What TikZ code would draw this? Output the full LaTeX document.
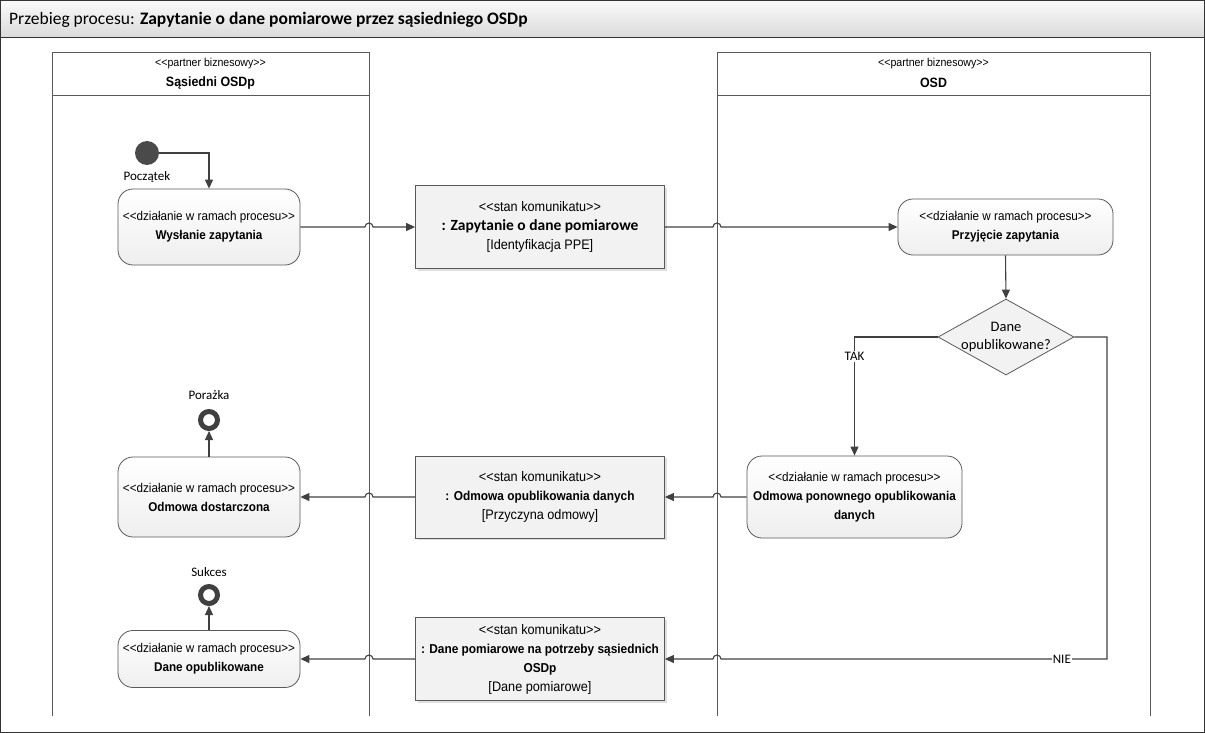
\documentclass[tikz,border=0pt]{standalone}
\usepackage{fontspec}
\setmainfont{Carlito}
\newfontfamily\nar[FakeStretch=0.92,Ligatures=TeXOff]{Liberation Sans}
\usetikzlibrary{arrows.meta,shapes.geometric,shadows,calc}
\definecolor{ln}{HTML}{404040}
\definecolor{bx}{HTML}{595959}
\newcommand\myfs[2]{\fontsize{#1}{#2}\selectfont}
\tikzset{
  conn/.style={draw=ln, line width=1.1pt, -{Triangle[width=8pt,length=9pt]}},
  plain/.style={draw=ln, line width=1.1pt},
  lane/.style={draw=bx, line width=0.8pt},
  action/.style={draw=bx, line width=0.8pt, rounded corners=15pt, top color=white,
    bottom color=gray!13, minimum width=182pt, align=center, inner sep=2pt,
    font=\nar\myfs{12.7}{19}},
  msg/.style={draw=bx, line width=0.8pt, fill=gray!10, minimum width=249pt,
    align=center, inner sep=2pt, font=\nar\myfs{13.8}{19},
    drop shadow={shadow xshift=2pt, shadow yshift=-2pt, opacity=0.25}},
  endn/.style={circle, draw=ln, line width=5pt, fill=white, minimum size=17pt, inner sep=0pt},
  lbl/.style={font=\myfs{13}{15}, inner sep=1pt},
  hdr/.style={font=\nar\myfs{11.5}{14}, inner sep=0pt}
}
\begin{document}
\begin{tikzpicture}[x=1pt,y=-1pt]
\useasboundingbox (0,0) rectangle (1205,733);
% frame and title bar
\shade[top color=gray!4, bottom color=gray!28] (0,0) rectangle (1205,37);
\draw[draw=black!80, line width=0.8pt] (0,37) -- (1205,37);
\draw[draw=black!80, line width=1pt] (0.5,0.5) rectangle (1204.5,732.5);
\node[anchor=base west, inner sep=0pt, font=\myfs{17.5}{20}] (title) at (9,25)
  {Przebieg procesu: \textbf{Zapytanie o dane pomiarowe przez sąsiedniego OSDp}};
% lanes
\coordinate (L1) at (369,0);
\coordinate (L2) at (717,0);
\draw[lane] (52,716) -- (52,52) -- (369,52) -- (369,716);
\draw[lane] (52,95) -- (369,95);
\draw[lane] (717,716) -- (717,52) -- (1150,52) -- (1150,716);
\draw[lane] (717,95) -- (1150,95);
\node[hdr] (h1a) at (210.5,64) {<<partner biznesowy>>};
\node[hdr, font=\nar\bfseries\myfs{13.5}{16}] (h1b) at (210.5,83) {Sąsiedni OSDp};
\node[hdr] (h2a) at (933.5,64) {<<partner biznesowy>>};
\node[hdr, font=\nar\bfseries\myfs{13.5}{16}] (h2b) at (933.5,83) {OSD};
% nodes
\node[circle, fill=ln!95, minimum size=24pt, inner sep=0pt] (start) at (147,153) {};
\node[lbl] (startl) at (147,177) {Początek};
\node[action, minimum height=76pt] (a1) at (209,227)
  {<<działanie w ramach procesu>>\\\bfseries Wysłanie zapytania};
\node[msg, minimum height=83pt] (m1) at (540,227)
  {<<stan komunikatu>>\\{\rmfamily\bfseries\myfs{15.5}{19}: Zapytanie o dane pomiarowe}\\{[Identyfikacja PPE]}};
\node[action, minimum width=215pt, minimum height=56pt] (p1) at (1005.5,227)
  {<<działanie w ramach procesu>>\\\bfseries Przyjęcie zapytania};
\node[diamond, draw=bx, line width=0.8pt, fill=gray!10, minimum width=136pt,
  minimum height=76pt, inner sep=0pt] (dec) at (1006,337) {};
\node[font=\myfs{14.5}{18}, align=center, inner sep=0pt] (decl) at (1006,337)
  {Dane\\opublikowane?};
\node[action, minimum width=215pt, minimum height=82pt] (o1) at (854.5,497)
  {<<działanie w ramach procesu>>\\\bfseries Odmowa ponownego opublikowania\\\bfseries danych};
\node[msg, minimum height=82pt] (m2) at (540,497)
  {<<stan komunikatu>>\\{\bfseries\myfs{12.9}{19}: Odmowa opublikowania danych}\\{[Przyczyna odmowy]}};
\node[action, minimum height=80pt] (a2) at (209,497)
  {<<działanie w ramach procesu>>\\\bfseries Odmowa dostarczona};
\node[endn] (fail) at (209,420) {};
\node[lbl] (faill) at (209,395) {Porażka};
\node[msg, minimum height=83pt] (m3) at (540,659)
  {<<stan komunikatu>>\\{\bfseries\myfs{12.9}{19}: Dane pomiarowe na potrzeby sąsiednich}\\{\bfseries\myfs{12.9}{19}OSDp}\\{[Dane pomiarowe]}};
\node[action, minimum height=57pt] (a3) at (209,659)
  {<<działanie w ramach procesu>>\\\bfseries Dane opublikowane};
\node[endn] (succ) at (209,595) {};
\node[lbl] (succl) at (209,572) {Sukces};
\coordinate (nr) at (1107,659);
% connectors
\draw[conn] (start.east) -| (a1.north);
\draw[conn] (a1.east) -- ($(a1.east -| L1)+(-4pt,0)$) arc[start angle=180,end angle=0,radius=4pt] -- (m1.west);
\draw[conn] (m1.east) -- ($(m1.east -| L2)+(-4pt,0)$) arc[start angle=180,end angle=0,radius=4pt] -- (p1.west);
\draw[conn] (p1.south) -- (dec.north);
\draw[conn] (dec.west) -| node[pos=0.582, fill=white, lbl] (tak) {TAK} (o1.north);
\draw[conn] (o1.west) -- ($(o1.west -| L2)+(4pt,0)$) arc[start angle=0,end angle=180,radius=4pt] -- (m2.east);
\draw[conn] (m2.west) -- ($(m2.west -| L1)+(4pt,0)$) arc[start angle=0,end angle=180,radius=4pt] -- (a2.east);
\draw[conn] (a2.north) -- (fail.south);
\draw[conn] (dec.east) -| (nr) -- node[pos=0.117, fill=white, lbl] (nie) {NIE} ($(m3.east -| L2)+(4pt,0)$) arc[start angle=0,end angle=180,radius=4pt] -- (m3.east);
\draw[conn] (m3.west) -- ($(m3.west -| L1)+(4pt,0)$) arc[start angle=0,end angle=180,radius=4pt] -- (a3.east);
\draw[conn] (a3.north) -- (succ.south);
\end{tikzpicture}
\end{document}
